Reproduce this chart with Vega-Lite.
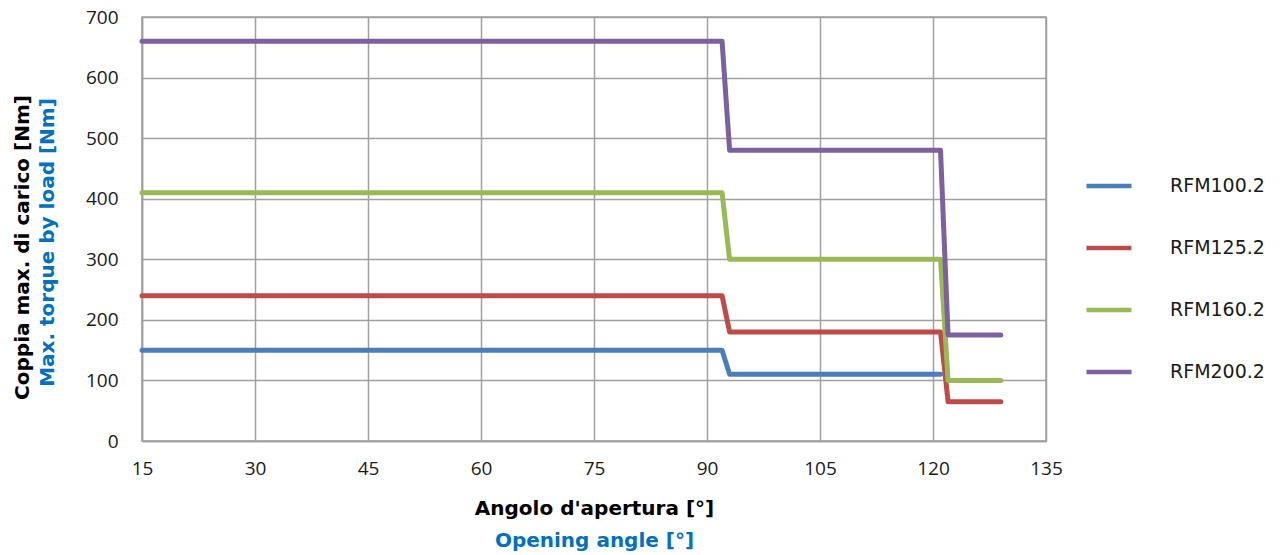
{
  "$schema": "https://vega.github.io/schema/vega-lite/v6.json",
  "width": 904,
  "height": 424,
  "autosize": "none",
  "padding": {"left": 142, "top": 17, "right": 234, "bottom": 114},
  "background": "white",
  "config": {
    "font": "Open Sans",
    "view": {"stroke": "#a0a0a0", "strokeWidth": 1.5},
    "axis": {"gridColor": "#a0a0a0", "gridWidth": 1.5, "gridOpacity": 1, "domainColor": "#a0a0a0", "domainWidth": 1.5, "ticks": false, "labelFontSize": 19, "labelColor": "#1a1a1a", "labelFlush": false, "titleFont": "DejaVu Sans", "titleFontSize": 20, "titleFontWeight": "bold"}
  },
  "data": {
    "values": [
      {"series": "RFM100.2", "angle": 15, "torque": 150},
      {"series": "RFM100.2", "angle": 92, "torque": 150},
      {"series": "RFM100.2", "angle": 93, "torque": 110},
      {"series": "RFM100.2", "angle": 121, "torque": 110},
      {"series": "RFM125.2", "angle": 15, "torque": 240},
      {"series": "RFM125.2", "angle": 92, "torque": 240},
      {"series": "RFM125.2", "angle": 93, "torque": 180},
      {"series": "RFM125.2", "angle": 121, "torque": 180},
      {"series": "RFM125.2", "angle": 122, "torque": 65},
      {"series": "RFM125.2", "angle": 129, "torque": 65},
      {"series": "RFM160.2", "angle": 15, "torque": 410},
      {"series": "RFM160.2", "angle": 92, "torque": 410},
      {"series": "RFM160.2", "angle": 93, "torque": 300},
      {"series": "RFM160.2", "angle": 121, "torque": 300},
      {"series": "RFM160.2", "angle": 122, "torque": 100},
      {"series": "RFM160.2", "angle": 129, "torque": 100},
      {"series": "RFM200.2", "angle": 15, "torque": 660},
      {"series": "RFM200.2", "angle": 92, "torque": 660},
      {"series": "RFM200.2", "angle": 93, "torque": 480},
      {"series": "RFM200.2", "angle": 121, "torque": 480},
      {"series": "RFM200.2", "angle": 122, "torque": 175},
      {"series": "RFM200.2", "angle": 129, "torque": 175}
    ]
  },
  "layer": [
    {
      "mark": {"type": "line", "strokeWidth": 5, "strokeCap": "round", "strokeJoin": "round"},
      "encoding": {
        "x": {
          "field": "angle", "type": "quantitative",
          "scale": {"domain": [15, 135], "nice": false, "zero": false},
          "axis": {"values": [15, 30, 45, 60, 75, 90, 105, 120, 135], "orient": "bottom", "labelPadding": 18, "title": "Angolo d'apertura [°]", "titleColor": "#000000", "titleX": 452, "titleY": 67, "titleAlign": "center", "titleBaseline": "middle"}
        },
        "y": {
          "field": "torque", "type": "quantitative",
          "scale": {"domain": [0, 700], "nice": false},
          "axis": {"values": [0, 100, 200, 300, 400, 500, 600, 700], "orient": "left", "labelPadding": 24, "title": "Coppia max. di carico [Nm]", "titleColor": "#000000", "titleX": -120, "titleY": 230, "titleAlign": "center", "titleBaseline": "middle", "titleAngle": -90}
        },
        "color": {
          "field": "series", "type": "nominal",
          "scale": {"domain": ["RFM100.2", "RFM125.2", "RFM160.2", "RFM200.2"], "range": ["#4a7ebb", "#be4b48", "#98b954", "#7d60a0"]},
          "legend": {"title": null, "orient": "none", "legendX": 942, "legendY": 144, "symbolType": "stroke", "symbolSize": 2025, "symbolStrokeWidth": 4.5, "labelOffset": 36, "labelFont": "DejaVu Sans", "labelFontSize": 19, "labelColor": "#1a1a1a", "rowPadding": 27, "padding": 0}
        }
      }
    },
    {
      "mark": {"type": "point", "opacity": 0},
      "encoding": {
        "x": {
          "field": "angle", "type": "quantitative",
          "scale": {"domain": [15, 135], "nice": false, "zero": false},
          "axis": {"orient": "bottom", "labels": false, "grid": false, "domain": false, "title": "Opening angle [°]", "titleColor": "#0070c0", "titleX": 452, "titleY": 99, "titleAlign": "center", "titleBaseline": "middle"}
        },
        "y": {
          "field": "torque", "type": "quantitative",
          "scale": {"domain": [0, 700], "nice": false},
          "axis": {"orient": "left", "labels": false, "grid": false, "domain": false, "title": "Max. torque by load [Nm]", "titleColor": "#0070c0", "titleX": -95, "titleY": 225, "titleAlign": "center", "titleBaseline": "middle", "titleAngle": -90}
        }
      }
    }
  ],
  "resolve": {"scale": {"x": "independent", "y": "independent"}, "axis": {"x": "independent", "y": "independent"}}
}
